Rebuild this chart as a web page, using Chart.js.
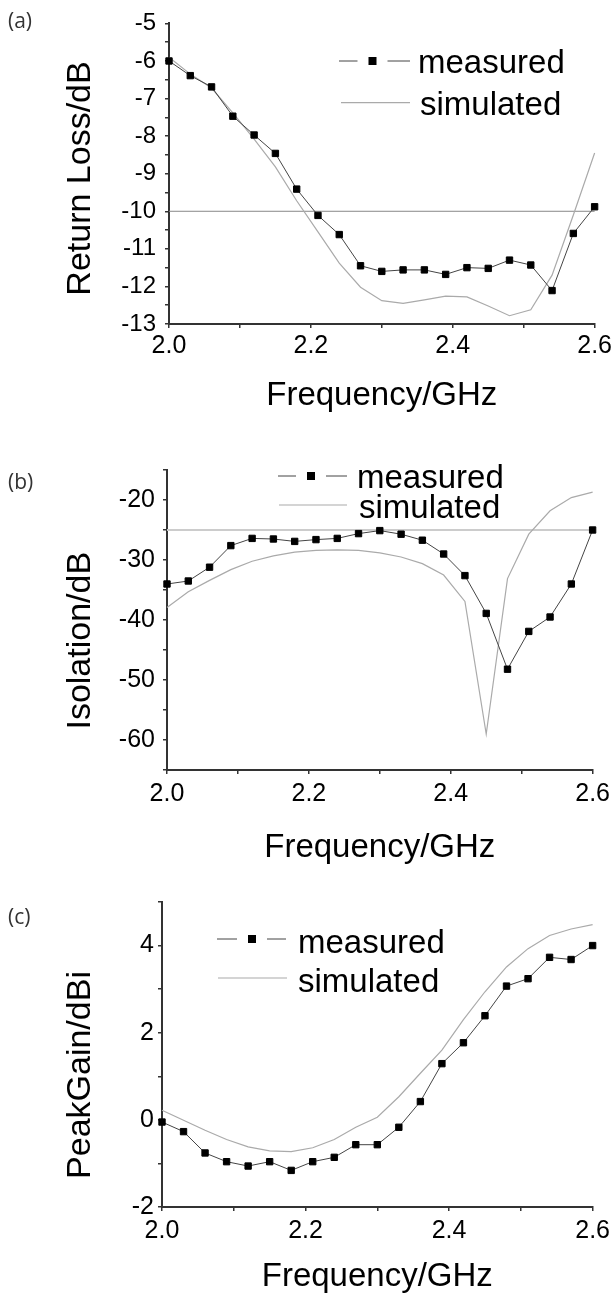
<!DOCTYPE html>
<html>
<head>
<meta charset="utf-8">
<script src="https://cdn.jsdelivr.net/npm/chart.js@4.4.0/dist/chart.umd.min.js"></script>
<style>
  body { margin: 0; background: #fff; }
  #wrap { position: relative; width: 615px; height: 1295px; }
  canvas { position: absolute; left: 0; }
</style>
</head>
<body>
<div id="wrap">
  <canvas id="chartA" width="615" height="430" style="top:0px"></canvas>
  <canvas id="chartB" width="615" height="440" style="top:430px"></canvas>
  <canvas id="chartC" width="615" height="425" style="top:870px"></canvas>
</div>
<script>
//-------------------- DATA --------------------
const freq = [2.00, 2.03, 2.06, 2.09, 2.12, 2.15, 2.18, 2.21, 2.24, 2.27, 2.30,
              2.33, 2.36, 2.39, 2.42, 2.45, 2.48, 2.51, 2.54, 2.57, 2.60];

// (a) return loss, dB
const rlMeasured  = [-6.0, -6.39, -6.69, -7.47, -7.97, -8.46, -9.41, -10.11, -10.62, -11.45, -11.60,
                     -11.56, -11.56, -11.68, -11.50, -11.52, -11.30, -11.43, -12.11, -10.59, -9.88];
const rlSimulated = [-5.9, -6.35, -6.72, -7.38, -8.08, -8.82, -9.72, -10.55, -11.38, -12.02, -12.38,
                     -12.45, -12.36, -12.26, -12.28, -12.52, -12.78, -12.62, -11.7, -10.1, -8.45];
const rlThreshold = -10;

// (b) isolation, dB
const isoMeasured  = [-34.0, -33.5, -31.2, -27.6, -26.4, -26.5, -26.9, -26.6, -26.4, -25.6, -25.1,
                      -25.7, -26.7, -29.0, -32.6, -38.9, -48.2, -41.9, -39.5, -34.0, -25.0];
const isoSimulated = [-37.9, -35.3, -33.4, -31.6, -30.2, -29.3, -28.7, -28.4, -28.3, -28.4, -28.8,
                      -29.5, -30.6, -32.5, -36.9, -59.0, -33.1, -25.7, -21.8, -19.6, -18.7];
const isoThreshold = -25;

// (c) peak gain, dBi
const gainMeasured  = [-0.05, -0.27, -0.76, -0.96, -1.06, -0.96, -1.16, -0.96, -0.86, -0.57, -0.57,
                       -0.17, 0.42, 1.29, 1.77, 2.39, 3.07, 3.24, 3.73, 3.68, 4.0];
const gainSimulated = [0.22, -0.01, -0.24, -0.45, -0.62, -0.71, -0.73, -0.64, -0.45, -0.17, 0.06,
                       0.53, 1.07, 1.6, 2.3, 2.94, 3.51, 3.93, 4.23, 4.38, 4.48];

//-------------------- HELPERS --------------------
Chart.defaults.font.family = '"Liberation Sans", Arial, sans-serif';
Chart.defaults.color = '#000';

const pts = (xs, ys) => xs.map((x, i) => ({ x: x, y: ys[i] }));
const span = [freq[0], freq[freq.length - 1]];

function seriesSets(measured, simulated, level, levelColor, levelWidth) {
  return [
    { label: 'measured', data: pts(freq, measured), borderColor: '#444', borderWidth: 1,
      pointStyle: 'rect', pointRadius: 4.5, pointBackgroundColor: '#000',
      pointBorderColor: '#000', pointBorderWidth: 1, tension: 0, clip: false },
    { label: 'simulated', data: pts(freq, simulated), borderColor: '#aaa', borderWidth: 1.2,
      pointRadius: 0, tension: 0, clip: false },
    { label: 'level', data: pts(span, [level, level]), borderColor: levelColor,
      borderWidth: levelWidth, pointRadius: 0, clip: false }
  ];
}

// panel letter, rotated y title and the legend box
const panelText = {
  id: 'panelText',
  afterDraw(chart, args, o) {
    const ctx = chart.ctx;
    ctx.save();
    ctx.fillStyle = '#333';
    ctx.font = '21px "Open Sans", "DejaVu Sans", sans-serif';
    ctx.textAlign = 'left';
    ctx.textBaseline = 'alphabetic';
    ctx.fillText(o.letter, o.letterAt[0], o.letterAt[1]);

    ctx.save();
    ctx.translate(o.yTitleAt[0], o.yTitleAt[1]);
    ctx.rotate(-Math.PI / 2);
    ctx.fillStyle = '#000';
    ctx.font = '34px "Liberation Sans", Arial, sans-serif';
    ctx.textAlign = 'center';
    ctx.textBaseline = 'middle';
    ctx.fillText(o.yTitle, 0, 0);
    ctx.restore();

    ctx.font = '33px "Liberation Sans", Arial, sans-serif';
    o.legend.forEach(row => {
      const ds = chart.data.datasets[row.index];
      ctx.strokeStyle = ds.borderColor;
      ctx.lineWidth = ds.borderWidth;
      ctx.beginPath();
      if (ds.pointRadius > 0) {
        const g = 15;
        ctx.moveTo(row.x0, row.y); ctx.lineTo(row.mark - g, row.y);
        ctx.moveTo(row.mark + g, row.y); ctx.lineTo(row.x1, row.y);
        ctx.stroke();
        ctx.fillStyle = ds.pointBackgroundColor;
        ctx.fillRect(row.mark - 4, row.y - 4, 8, 8);
      } else {
        ctx.moveTo(row.x0, row.y); ctx.lineTo(row.x1, row.y);
        ctx.stroke();
      }
      ctx.fillStyle = '#000';
      ctx.textAlign = 'left';
      ctx.textBaseline = 'alphabetic';
      ctx.fillText(ds.label, row.tx, row.base);
    });
    ctx.restore();
  }
};

const axisGrid = { drawOnChartArea: false, drawTicks: true, tickLength: 4, color: '#333', lineWidth: 1.5 };
const axisBorder = { display: true, color: '#333', width: 2 };

function buildChart(id, box, datasets, y, x, deco) {
  const canvas = document.getElementById(id);
  return new Chart(canvas, {
    type: 'line',
    data: { datasets },
    options: {
      responsive: false,
      animation: false,
      layout: { padding: { left: 0, top: box.top, right: canvas.width - box.right, bottom: 0 } },
      plugins: { legend: { display: false }, tooltip: { enabled: false }, panelText: deco },
      scales: {
        x: {
          type: 'linear', min: 2.0, max: 2.6,
          ticks: {
            stepSize: 0.1, padding: x.tickPad, autoSkip: false, maxRotation: 0,
            font: { size: 25 },
            callback: v => Math.round(v * 10) % 2 === 0 ? v.toFixed(1) : ''
          },
          grid: axisGrid,
          border: axisBorder,
          title: { display: true, text: 'Frequency/GHz', font: { size: 33, lineHeight: 1 },
                   padding: { top: 0, bottom: x.titlePad } },
          afterFit: s => { s.height = canvas.height - box.bottom; }
        },
        y: {
          min: y.min, max: y.max,
          ticks: { stepSize: y.step, padding: y.tickPad, font: { size: y.fontSize },
                   autoSkip: false, callback: y.label },
          grid: axisGrid,
          border: axisBorder,
          afterFit: s => { s.width = box.left; }
        }
      }
    },
    plugins: [panelText]
  });
}

//-------------------- RENDER --------------------
buildChart('chartA', { left: 169, right: 598, top: 23, bottom: 324 },
  seriesSets(rlMeasured, rlSimulated, rlThreshold, '#888', 1),
  { min: -13, max: -5, step: 0.5, tickPad: 9, fontSize: 24,
    label: v => Number.isInteger(v) ? String(v) : '' },
  { tickPad: 3, titlePad: 17.7 },
  { letter: '(a)', letterAt: [8, 28], yTitle: 'Return Loss/dB', yTitleAt: [81, 178.5],
    legend: [
      { index: 0, x0: 339, x1: 410, mark: 372.5, y: 61, tx: 418, base: 73.3 },
      { index: 1, x0: 341, x1: 410, y: 102.7, tx: 420, base: 115 }
    ] });

buildChart('chartB', { left: 167, right: 599, top: 40, bottom: 340 },
  seriesSets(isoMeasured, isoSimulated, isoThreshold, '#ccc', 2),
  { min: -65, max: -15, step: 5, tickPad: 8, fontSize: 25,
    label: v => v % 10 === 0 ? String(v) : '' },
  { tickPad: 5, titlePad: 5.7 },
  { letter: '(b)', letterAt: [8, 59], yTitle: 'Isolation/dB', yTitleAt: [81, 210.7],
    legend: [
      { index: 0, x0: 278, x1: 347, mark: 311, y: 46, tx: 357, base: 58.3 },
      { index: 1, x0: 279, x1: 347, y: 75, tx: 359, base: 88 }
    ] });

buildChart('chartC', { left: 162, right: 599, top: 32, bottom: 337 },
  seriesSets(gainMeasured, gainSimulated, NaN, 'rgba(0,0,0,0)', 0),
  { min: -2, max: 5, step: 1, tickPad: 4, fontSize: 25,
    label: v => v % 2 === 0 ? String(v) : '' },
  { tickPad: 5, titlePad: 2 },
  { letter: '(c)', letterAt: [8, 54], yTitle: 'PeakGain/dBi', yTitleAt: [81, 205],
    legend: [
      { index: 0, x0: 217, x1: 286, mark: 252, y: 69, tx: 298, base: 83 },
      { index: 1, x0: 218, x1: 287, y: 108, tx: 298, base: 122 }
    ] });
</script>
</body>
</html>
